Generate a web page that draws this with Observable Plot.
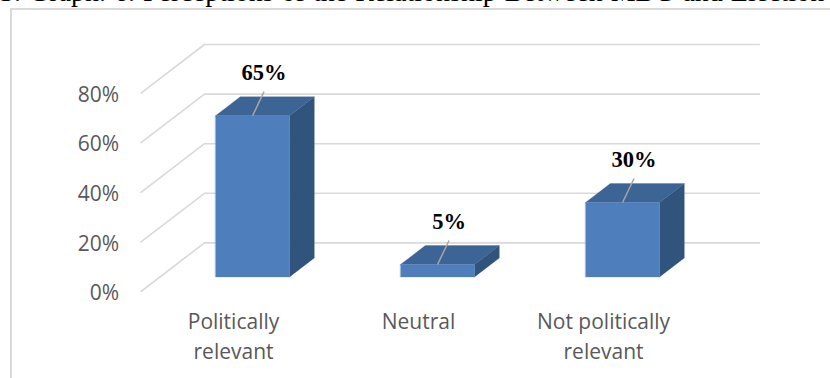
<!DOCTYPE html>
<html>
<head>
<meta charset="utf-8">
<script src="https://cdn.jsdelivr.net/npm/d3@7"></script>
<script src="https://cdn.jsdelivr.net/npm/@observablehq/plot@0.6"></script>
<style>
  html, body { margin: 0; padding: 0; background: #fff; }
  #page { position: relative; width: 830px; height: 378px; overflow: hidden; }
  #heading { position: absolute; left: 0; top: -24px; white-space: nowrap; word-spacing: 1px;
    font: 28px/normal "Liberation Serif", serif; color: #000; }
  #border { position: absolute; left: 10px; top: 8px; width: 830px; height: 400px;
    border-left: 2px solid #d9d9d9; border-top: 2px solid #d9d9d9; }
  #chart { position: absolute; left: 0; top: 0; }
</style>
</head>
<body>
<div id="page">
  <div id="heading">3. Graph. 6. Perceptions of the Relationship Between MBG and Election</div>
  <div id="border"></div>
  <div id="chart"></div>
</div>
<script>
// Survey shares per response category
const categories = ["Politically\nrelevant", "Neutral", "Not politically\nrelevant"];
const shares = [65, 5, 30];
const wallTicks = [0, 20, 40, 60, 80];

// Oblique projection: depth 0 is the front floor edge, depth 1 is the back wall
const depthX = 0.343;
const depthY = 19.6;
const px = (x, d) => x + d * depthX;
const py = (v, d) => v + d * depthY;

const barHalf = 0.2;
const barFront = 0.3;
const barBack = 0.69;

const rows = categories.map((name, i) => ({name, i, value: shares[i]}));

// Turns a list of [x offset, height fraction, depth] corners into polygon vertices
const face = (corners) => rows.flatMap((r) =>
  corners.map(([ox, h, d]) => ({
    id: r.i,
    x: px(r.i + ox * barHalf, d),
    y: py(h * r.value, d)
  })));

const polygon = (corners, fill) =>
  Plot.line(face(corners), {x: "x", y: "y", z: "id", fill, stroke: fill, strokeWidth: 0.3, curve: "linear-closed"});

const wallLines = wallTicks.flatMap((t) => [
  {t, x: px(-0.5, 0), y: py(t, 0)},
  {t, x: px(-0.5, 1), y: py(t, 1)},
  {t, x: px(2.5, 1), y: py(t, 1)}
]);

const leaders = rows.map((r) => ({
  x1: px(r.i, barFront),
  y1: py(r.value, barFront),
  x2: px(r.i, barFront) + 0.062,
  y2: py(r.value, barFront) + 9.7,
  label: r.value + "%"
}));

const chart = Plot.plot({
  width: 830,
  height: 378,
  marginLeft: 140.5,
  marginRight: 71,
  marginTop: 43,
  marginBottom: 87,
  style: {background: "transparent", overflow: "visible"},
  x: {domain: [-0.5, 2.5 + depthX], axis: null},
  y: {domain: [0, 100], axis: null},
  marks: [
    Plot.line(wallLines, {x: "x", y: "y", z: "t", stroke: "#d9d9d9", strokeWidth: 1.6, curve: "linear"}),
    Plot.axisY({
      ticks: wallTicks,
      tickSize: 0,
      tickPadding: 22,
      tickFormat: (d) => d + "%",
      label: null,
      dy: 2,
      fontSize: 21,
      fontFamily: "Open Sans",
      color: "#595959"
    }),
    // Side, top and front faces of each block
    polygon([[1, 0, barFront], [1, 0, barBack], [1, 1, barBack], [1, 1, barFront]], "#31547c"),
    polygon([[-1, 1, barFront], [-1, 1, barBack], [1, 1, barBack], [1, 1, barFront]], "#3c6494"),
    polygon([[-1, 0, barFront], [1, 0, barFront], [1, 1, barFront], [-1, 1, barFront]], "#4e7fbc"),
    Plot.link(leaders, {x1: "x1", y1: "y1", x2: "x2", y2: "y2", stroke: "#a6a6a6", strokeWidth: 1.5, curve: "linear"}),
    Plot.text(leaders, {
      x: "x2", y: "y2", text: "label", dy: -19,
      fontFamily: "Liberation Serif", fontWeight: "bold", fontSize: 22.5, fill: "#000"
    }),
    Plot.text(rows, {
      x: "i", y: () => 0, text: "name", lineAnchor: "top", dy: 17, lineHeight: 1.4,
      fontFamily: "Open Sans", fontSize: 21, fill: "#595959"
    })
  ]
});
document.getElementById("chart").appendChild(chart);
</script>
</body>
</html>
